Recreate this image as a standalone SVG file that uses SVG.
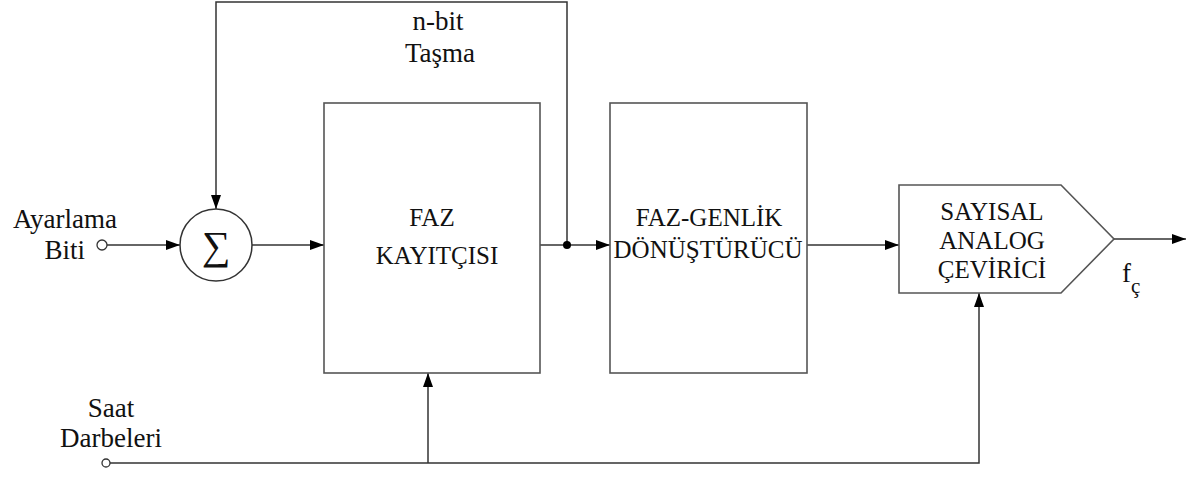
<svg xmlns="http://www.w3.org/2000/svg" width="1196" height="477" viewBox="0 0 1196 477">
  <style>
    .box { fill: #ffffff; stroke: #555555; stroke-width: 1.6; }
    .wire { fill: none; stroke: #333333; stroke-width: 1.5; }
    .lbl { font-family: 'Liberation Serif', serif; font-size: 27px; fill: #111111; }
    .blbl { font-family: 'Liberation Serif', serif; font-size: 25px; fill: #111111; text-anchor: middle; }
    .port { fill: #ffffff; stroke: #333333; stroke-width: 1.3; }
  </style>
  <defs>
    <marker id="arr" viewBox="0 0 14 10" refX="14" refY="5" markerWidth="14" markerHeight="10" markerUnits="userSpaceOnUse" orient="auto">
      <path d="M0,0 L14,5 L0,10 Z" fill="#000000"/>
    </marker>
  </defs>

  <!-- connectors -->
  <g id="connectors">
    <!-- adjust input to summer -->
    <line class="wire" x1="107" y1="245" x2="180" y2="245" marker-end="url(#arr)"/>
    <!-- summer to phase register -->
    <line class="wire" x1="252" y1="245" x2="324" y2="245" marker-end="url(#arr)"/>
    <!-- phase register to phase-amplitude converter -->
    <line class="wire" x1="540" y1="245" x2="610" y2="245" marker-end="url(#arr)"/>
    <!-- overflow feedback -->
    <polyline class="wire" points="567,245 567,2 216,2 216,209" marker-end="url(#arr)"/>
    <circle cx="567" cy="245" r="4" fill="#000000"/>
    <!-- converter to DAC -->
    <line class="wire" x1="807" y1="245" x2="899" y2="245" marker-end="url(#arr)"/>
    <!-- DAC output -->
    <line class="wire" x1="1114" y1="239" x2="1186" y2="239" marker-end="url(#arr)"/>
    <!-- clock distribution -->
    <polyline class="wire" points="110,463 979,463 979,293" marker-end="url(#arr)"/>
    <line class="wire" x1="428" y1="463" x2="428" y2="373" marker-end="url(#arr)"/>
    <circle class="port" cx="102" cy="245" r="5"/>
    <circle class="port" cx="106" cy="463" r="4"/>
  </g>

  <!-- input labels -->
  <g id="adjust-input">
    <text class="lbl" x="117" y="228" text-anchor="end">Ayarlama</text>
    <text class="lbl" x="85" y="259" text-anchor="end">Biti</text>
  </g>
  <g id="clock-input">
    <text class="lbl" x="111" y="417" text-anchor="middle">Saat</text>
    <text class="lbl" x="111" y="447" text-anchor="middle">Darbeleri</text>
  </g>
  <g id="overflow-label">
    <text class="lbl" x="438" y="30" text-anchor="middle">n-bit</text>
    <text class="lbl" x="440" y="62" text-anchor="middle">Taşma</text>
  </g>

  <!-- summer -->
  <g id="summer">
    <circle cx="216" cy="245" r="36" fill="#ffffff" stroke="#333333" stroke-width="1.5"/>
    <text x="216" y="259" text-anchor="middle" font-family="'Liberation Serif', serif" font-size="40" fill="#111111">∑</text>
  </g>

  <!-- phase register -->
  <g id="phase-register">
    <rect class="box" x="324" y="103" width="216" height="270"/>
    <text class="blbl" x="432" y="226">FAZ</text>
    <text class="blbl" x="437" y="264">KAYITÇISI</text>
  </g>

  <!-- phase-amplitude converter -->
  <g id="phase-amplitude">
    <rect class="box" x="610" y="103" width="197" height="270"/>
    <text class="blbl" x="709" y="226">FAZ-GENLİK</text>
    <text class="blbl" x="708" y="258" font-size="24">DÖNÜŞTÜRÜCÜ</text>
  </g>

  <!-- digital-analog converter -->
  <g id="dac">
    <polygon class="box" points="899,185 1061,185 1114,239 1061,293 899,293"/>
    <text class="blbl" x="992" y="220">SAYISAL</text>
    <text class="blbl" x="992" y="249">ANALOG</text>
    <text class="blbl" x="992" y="278">ÇEVİRİCİ</text>
  </g>

  <!-- output label -->
  <g id="output-label">
    <text class="lbl" x="1122" y="282">f<tspan font-size="21" dy="11">ç</tspan></text>
  </g>
</svg>
